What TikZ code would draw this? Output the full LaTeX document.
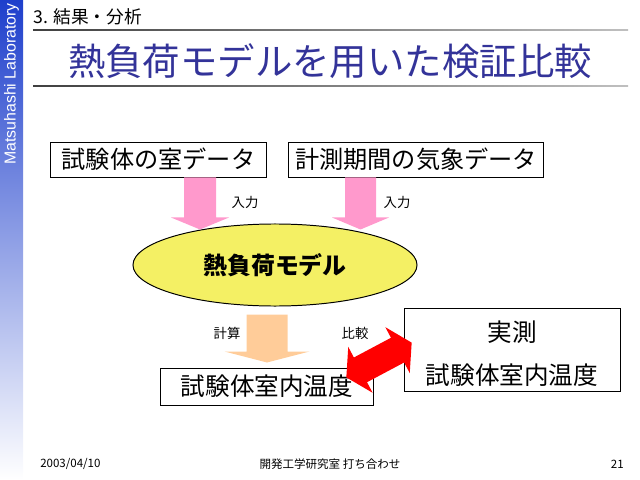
\documentclass[tikz,border=0pt]{standalone}
\usepackage{fontspec}
\setmainfont{Noto Sans CJK JP}
\newfontfamily\labfont{Liberation Sans}
\usetikzlibrary{positioning,shapes.geometric}
\definecolor{titleblue}{HTML}{333399}
\definecolor{sideblue}{HTML}{1E3FCC}
\definecolor{inpink}{HTML}{FF99CC}
\definecolor{calcorange}{HTML}{FFCC99}
\definecolor{modelyellow}{HTML}{F4F064}

\begin{document}
\begin{tikzpicture}[x=0.025cm, y=-0.025cm,
    databox/.style={draw=black, line width=0.7pt, fill=white, inner sep=0pt},
    bigtext/.style={font=\fontsize{17.2}{18}\selectfont},
    midtext/.style={font=\fontsize{17.5}{18}\selectfont},
    smalllabel/.style={font=\fontsize{9.5}{10}\selectfont, inner sep=0pt},
    footlabel/.style={font=\fontsize{8.2}{9}\selectfont, inner sep=0pt},
    inarrow/.style={fill=inpink},
    calcarrow/.style={fill=calcorange},
    ]
    \useasboundingbox (0,0) rectangle (640,480);
    %Sidebar and header
    \shade[top color=sideblue, bottom color=white] (0,0) rectangle (23,480);
    \node[rotate=90, text=white, inner sep=0pt, font=\labfont\fontsize{11.3}{12}\selectfont] (lab) at (11.5,84) {Matsuhashi Laboratory};
    \node[anchor=west, inner sep=0pt, font=\fontsize{12.6}{14}\selectfont] (sec) at (33,17) {3. 結果・分析};
    \shade[left color=black!75, right color=black!25] (33,29.4) rectangle (628,30.8);
    \node[text=titleblue, inner sep=0pt, font=\fontsize{26.6}{28}\selectfont] (title) at (330,61) {熱負荷モデルを用いた検証比較};
    \shade[left color=black!75, right color=black!25] (33,85.4) rectangle (628,86.8);

    %Nodes
    \node[databox, bigtext, minimum width=5.375cm, minimum height=0.875cm] (room) at (158.5,159.5) {試験体の室データ};
    \node[databox, bigtext, minimum width=6.35cm, minimum height=0.875cm] (weather) at (416,159.5) {計測期間の気象データ};
    \node[ellipse, draw=black, line width=0.7pt, fill=modelyellow, inner sep=0pt,
          minimum width=7.1cm, minimum height=2.05cm, font=\fontsize{17}{18}\selectfont\bfseries] (model) at (275,265) {熱負荷モデル};
    \node[databox, midtext, minimum width=5.3cm, minimum height=0.925cm] (sim) at (267,386.5) {試験体室内温度};
    \node[databox, minimum width=5.375cm, minimum height=2.05cm] (meas) at (512.5,350) {};
    \node[midtext, inner sep=0pt] (measA) at (512,332) {実測};
    \node[midtext, inner sep=0pt] (measB) at (512,375) {試験体室内温度};

    %Arrows
    \fill[inarrow] (room.south) ++(25.5,0) -- ++(32,0) -- ++(0,40) -- ++(13,0) -- ++(-29,12) -- ++(-29,-12) -- ++(13,0) -- cycle;
    \fill[inarrow] (weather.south) ++(-71,0) -- ++(31,0) -- ++(0,40) -- ++(13,0) -- ++(-28.5,12) -- ++(-28.5,-12) -- ++(13,0) -- cycle;
    \fill[calcarrow] (sim.north) ++(0,-5) -- ++(42.5,-11) -- ++(-22,0) -- ++(0,-37) -- ++(-41,0) -- ++(0,37) -- ++(-22,0) -- cycle;
    \coordinate (cmp) at (379,360);
    \begin{scope}[shift={(cmp)}, rotate=28]
        \fill[red] (37,0) -- (21,-26) -- (21,-14) -- (-21,-14) -- (-21,-26) -- (-37,0)
            -- (-21,26) -- (-21,14) -- (21,14) -- (21,26) -- cycle;
    \end{scope}

    %Labels
    \node[smalllabel] (in1) at (245,202) {入力};
    \node[smalllabel] (in2) at (397,202) {入力};
    \node[smalllabel] (calc) at (227,333) {計算};
    \node[smalllabel] (comp) at (355,333) {比較};

    %Footer
    \node[footlabel, anchor=west] (date) at (40,464) {2003/04/10};
    \node[footlabel] (event) at (330,464) {開発工学研究室 打ち合わせ};
    \node[footlabel, anchor=east] (page) at (624,464) {21};
\end{tikzpicture}
\end{document}
